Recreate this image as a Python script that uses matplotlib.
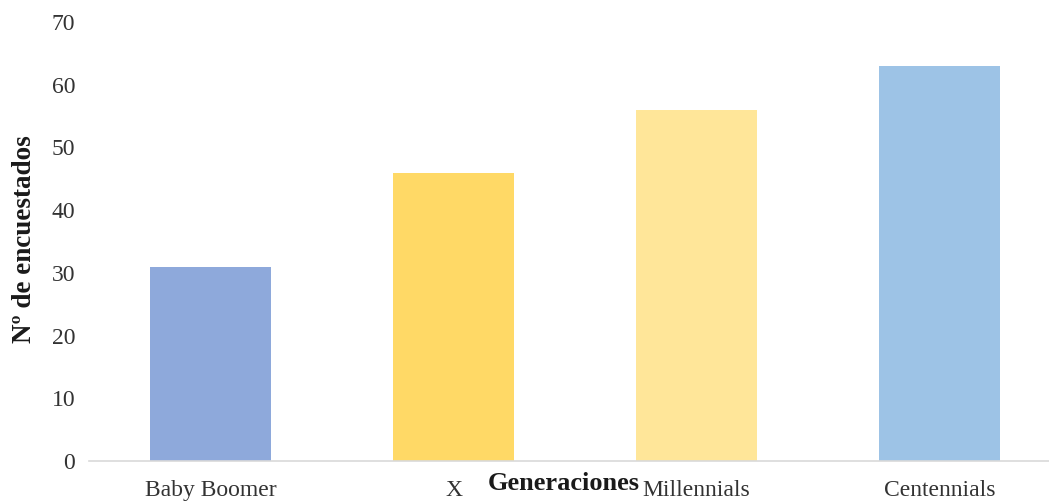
import matplotlib
matplotlib.use("Agg")
import matplotlib.pyplot as plt

# Survey respondents per generation
categories = ["Baby Boomer", "X", "Millennials", "Centennials"]
respondents = [31, 46, 56, 63]
bar_colors = ["#8EA9DB", "#FFD966", "#FFE699", "#9DC3E6"]
y_ticks = [0, 10, 20, 30, 40, 50, 60, 70]

plt.rcParams["font.family"] = ["Liberation Serif", "DejaVu Serif"]

fig = plt.figure(figsize=(10.49, 5.03), dpi=100)
ax = fig.add_axes([89 / 1049, 42 / 503, 972 / 1049, 439 / 503])

x = list(range(len(categories)))
ax.bar(x, respondents, width=0.5, color=bar_colors, zorder=2)

ax.set_xlim(-0.5, len(categories) - 0.5)
ax.set_ylim(0, 70)
ax.set_yticks(y_ticks)
ax.set_xticks(x)
ax.set_xticklabels(categories)

ax.tick_params(axis="both", length=0, labelsize=17, colors="#333333")
ax.tick_params(axis="x", pad=14)
ax.tick_params(axis="y", pad=10)

for side in ["top", "right", "left"]:
    ax.spines[side].set_visible(False)
ax.spines["bottom"].set_color("#d9d9d9")
ax.spines["bottom"].set_linewidth(1.2)

ax.set_ylabel("Nº de encuestados", fontsize=19.5, fontweight="bold", color="#1a1a1a")
ax.yaxis.label.set_va("center")
ax.yaxis.set_label_coords(-0.066, 0.505)
ax.set_xlabel("Generaciones", fontsize=19, fontweight="bold", color="#1a1a1a")
ax.xaxis.label.set_va("center")
ax.xaxis.set_label_coords(0.4887, -0.052)

fig.savefig("out.png", dpi=100, facecolor="white")
